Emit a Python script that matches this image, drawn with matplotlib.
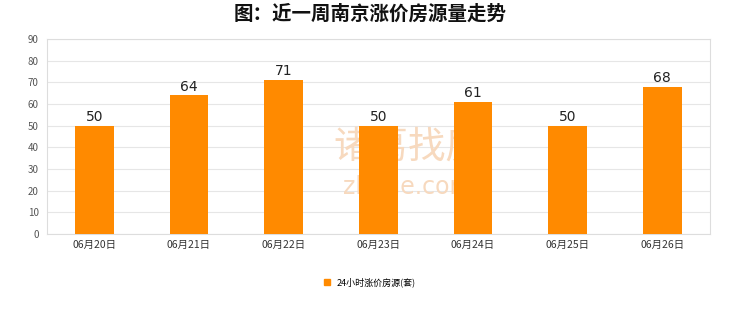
import matplotlib.pyplot as plt
from matplotlib.patches import Rectangle

plt.rcParams["font.family"] = ["Noto Sans CJK SC", "DejaVu Sans"]

dates = ["06月20日", "06月21日", "06月22日", "06月23日", "06月24日", "06月25日", "06月26日"]
counts = [50, 64, 71, 50, 61, 50, 68]
series_name = "24小时涨价房源(套)"
title = "图：近一周南京涨价房源量走势"

bar_color = "#FF8A00"
grid_color = "#E6E6E6"

fig = plt.figure(figsize=(7.4, 3.12), dpi=100)
ax = fig.add_axes([0.0635, 0.25, 0.8955, 0.625])

x = list(range(len(dates)))
ax.bar(x, counts, width=0.41, color=bar_color, zorder=3)
for xi, v in zip(x, counts):
    ax.text(xi, v + 0.8, str(v), ha="center", va="bottom", fontsize=10,
            color="#222222", family=["DejaVu Sans"], zorder=4)

ax.set_xlim(-0.5, len(dates) - 0.5)
ax.set_ylim(0, 90)
ax.set_yticks(range(0, 91, 10))
ax.yaxis.grid(True, color=grid_color, linewidth=0.8, zorder=0)
ax.set_xticks(x)
ax.set_xticklabels(dates, fontsize=7.5, color="#333333")
ax.tick_params(axis="y", labelsize=7, colors="#555555", length=0, pad=6)
ax.tick_params(axis="x", length=0, pad=4)
for s in ax.spines.values():
    s.set_color("#DDDDDD")
    s.set_linewidth(0.8)

# faint watermark behind the bars
ax.text(0.545, 0.44, "诸葛找房", transform=ax.transAxes, fontsize=27, color="#F7D9BE",
        ha="center", va="center", zorder=2)
ax.text(0.545, 0.24, "zhuge.com", transform=ax.transAxes, fontsize=17, color="#F7D9BE",
        ha="center", va="center", zorder=2, family=["DejaVu Sans"])

fig.suptitle(title, fontsize=14, fontweight="bold", y=0.985, color="#111111")

fig.legend(handles=[Rectangle((0, 0), 1, 1, color=bar_color)], labels=[series_name],
           loc="center", bbox_to_anchor=(0.5, 0.095), frameon=False, fontsize=6.5,
           handlelength=0.6, handleheight=0.6, handletextpad=0.8)

fig.savefig("out.png", dpi=100)
